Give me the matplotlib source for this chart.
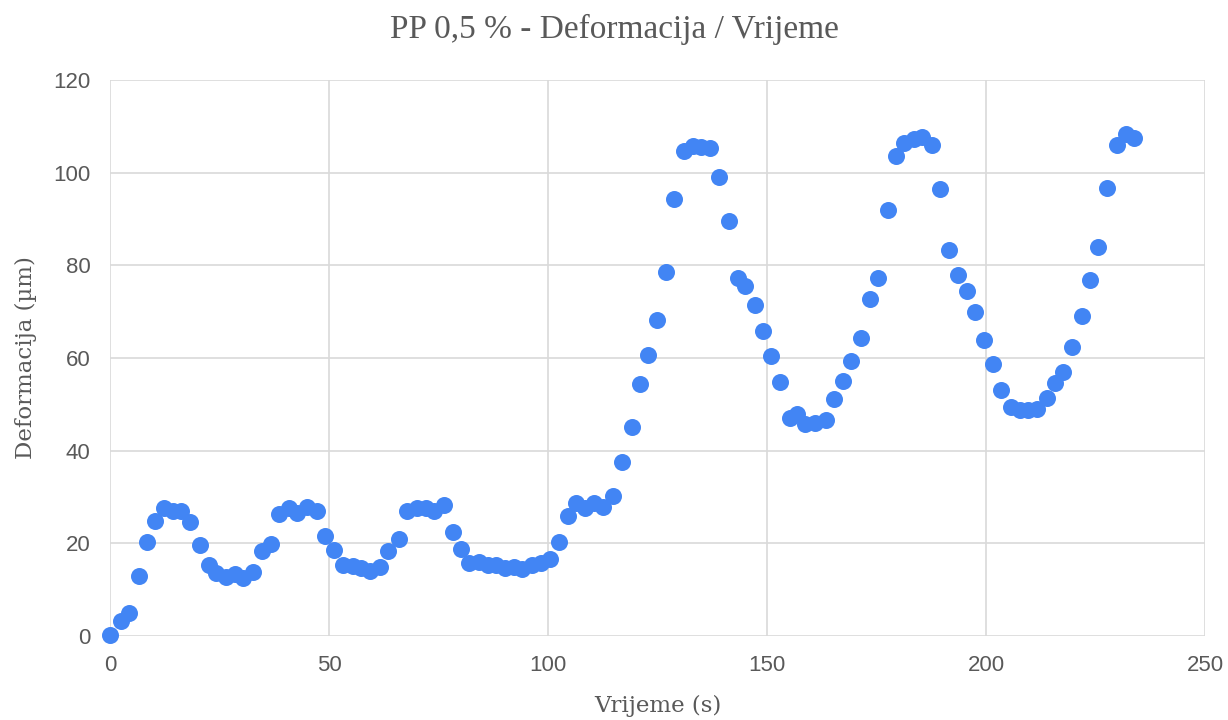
import matplotlib
matplotlib.use("Agg")
import matplotlib.pyplot as plt

# Time (s) and deformation (um) for the PP 0,5 % sample
vrijeme = [
    0.0, 2.5, 4.3, 6.6, 8.4, 10.3, 12.3, 14.4, 16.2, 18.3,
    20.5, 22.6, 24.2, 26.5, 28.5, 30.4, 32.6, 34.7, 36.8, 38.6,
    40.9, 42.7, 45.0, 47.3, 49.1, 51.1, 53.2, 55.5, 57.3, 59.4,
    61.6, 63.5, 66.0, 67.8, 70.1, 72.1, 74.0, 76.3, 78.3, 80.1,
    82.0, 84.2, 86.3, 88.1, 90.2, 92.2, 94.1, 96.3, 98.4, 100.5,
    102.5, 104.6, 106.4, 108.4, 110.5, 112.6, 114.8, 116.9, 119.2, 121.0,
    122.8, 124.9, 126.9, 128.8, 131.1, 133.1, 134.9, 137.0, 139.0, 141.3,
    143.4, 145.0, 147.3, 149.1, 150.9, 153.0, 155.3, 156.8, 158.7, 161.0,
    163.5, 165.3, 167.4, 169.2, 171.5, 173.5, 175.3, 177.6, 179.5, 181.3,
    183.6, 185.4, 187.7, 189.5, 191.6, 193.6, 195.7, 197.5, 199.5, 201.6,
    203.4, 205.7, 207.8, 209.6, 211.6, 213.9, 215.8, 217.6, 219.6, 221.9,
    223.7, 225.6, 227.6, 229.9, 232.0, 233.8,
]
deformacija = [
    0.3, 3.2, 5.0, 12.9, 20.3, 24.8, 27.6, 27.0, 27.0, 24.6,
    19.6, 15.3, 13.6, 12.7, 13.4, 12.5, 13.8, 18.3, 19.9, 26.3,
    27.6, 26.5, 27.8, 27.0, 21.6, 18.6, 15.3, 15.1, 14.7, 14.0,
    14.9, 18.3, 20.9, 27.0, 27.6, 27.6, 27.0, 28.3, 22.4, 18.8,
    15.8, 16.0, 15.3, 15.3, 14.7, 14.9, 14.5, 15.3, 15.8, 16.6,
    20.3, 25.9, 28.7, 27.6, 28.7, 27.8, 30.2, 37.6, 45.1, 54.4,
    60.6, 68.2, 78.6, 94.3, 104.7, 105.8, 105.5, 105.3, 99.1, 89.6,
    77.3, 75.5, 71.4, 65.8, 60.4, 54.8, 47.1, 47.9, 45.8, 46.0,
    46.6, 51.2, 55.0, 59.4, 64.3, 72.7, 77.3, 91.9, 103.6, 106.4,
    107.3, 107.7, 106.0, 96.5, 83.3, 77.9, 74.5, 69.9, 63.9, 58.7,
    53.1, 49.4, 48.8, 48.8, 49.0, 51.4, 54.6, 57.0, 62.4, 69.1,
    76.8, 84.0, 96.7, 106.0, 108.4, 107.5,
]

x_ticks = [0, 50, 100, 150, 200, 250]
y_ticks = [0, 20, 40, 60, 80, 100, 120]

fig = plt.figure(figsize=(12.28, 7.2), dpi=100)
ax = fig.add_axes([110 / 1228, 1 - 636 / 720, 1095 / 1228, 556 / 720])

ax.scatter(vrijeme, deformacija, s=150, color="#4285F4", linewidths=0,
           zorder=3, clip_on=False)

ax.set_xlim(0, 250)
ax.set_ylim(0, 120)
ax.set_xticks(x_ticks)
ax.set_yticks(y_ticks)
ax.grid(True, color="#d9d9d9", linewidth=1.2)
ax.set_axisbelow(True)
for side in ax.spines.values():
    side.set_visible(False)
ax.tick_params(length=0, labelsize=16, labelcolor="#595959", pad=14)
for lab in ax.get_xticklabels() + ax.get_yticklabels():
    lab.set_fontfamily("Liberation Sans")

fig.text(0.5, 1 - 29 / 720, "PP 0,5 % - Deformacija / Vrijeme",
         ha="center", va="center", fontsize=24, color="#595959",
         family="Liberation Serif")
ax.set_xlabel("Vrijeme (s)", fontsize=16.5, color="#595959",
              family="DejaVu Serif", labelpad=13)
ax.set_ylabel("Deformacija (µm)", fontsize=16.5, color="#595959",
              family="DejaVu Serif", labelpad=12)

fig.savefig("out.png", dpi=100, facecolor="white")
